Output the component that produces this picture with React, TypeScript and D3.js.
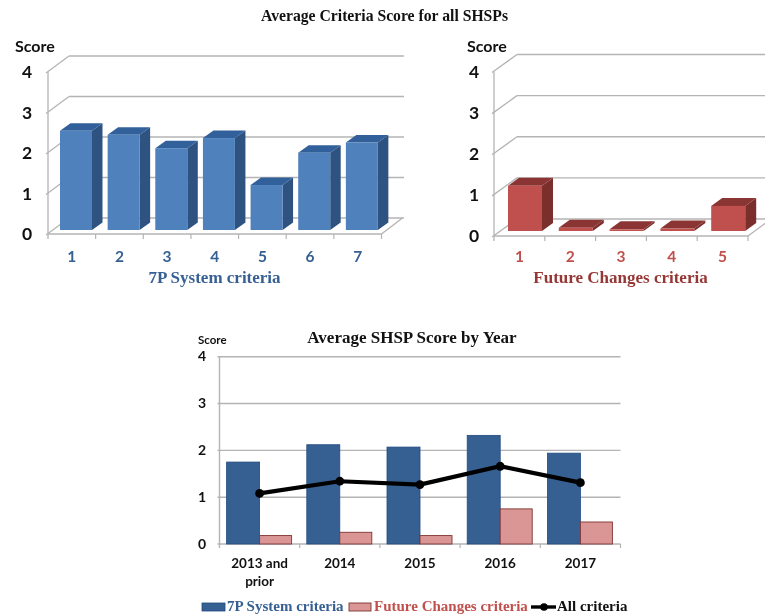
import React from "react";
import * as d3 from "d3";

const systemCriteria = ["1", "2", "3", "4", "5", "6", "7"];
const systemScores = [2.45, 2.35, 2.02, 2.27, 1.11, 1.91, 2.16];
const futureCriteria = ["1", "2", "3", "4", "5"];
const futureScores = [1.1, 0.08, 0.04, 0.06, 0.61];
const scoreTicks = [0, 1, 2, 3, 4];
const years = ["2013 and prior", "2014", "2015", "2016", "2017"];
const yearSystem = [1.75, 2.12, 2.07, 2.32, 1.94];
const yearFuture = [0.18, 0.25, 0.18, 0.75, 0.47];
const yearAll = [1.08, 1.34, 1.27, 1.66, 1.31];

const SANS = "Lato, 'Open Sans', sans-serif";
const SERIF = "'Liberation Serif', serif";
const GRID = "#b4b4b4";

type Chart3DProps = {
  cats: string[]; vals: number[]; x0: number; x1: number; yZero: number; yTop: number;
  dx: number; dy: number; barOff: number; barW: number; face: string; side: string; top: string;
  tickColor: string; name: string; nameColor: string; nameX: number; scoreX: number; numX: number;
  lineEnd: number; baseGap: number; depthX: number; depthY: number;
};

function Chart3D(p: Chart3DProps) {
  const y = d3.scaleLinear().domain([0, 4]).range([p.yZero, p.yTop]);
  const x = d3.scaleBand<string>().domain(p.cats).range([p.x0, p.x1]);
  const base = p.yZero - p.baseGap;
  const h = p.yZero - p.yTop;
  return (
    <g>
      {scoreTicks.map((t) => (
        <g key={t}>
          <line x1={p.x0 - 2} x2={p.x0 + p.dx} y1={y(t) + 1} y2={y(t) - p.dy} stroke={GRID} strokeWidth={1.3} />
          <line x1={p.x0 + p.dx} x2={p.lineEnd} y1={y(t) - p.dy} y2={y(t) - p.dy} stroke={GRID} strokeWidth={1.3} />
          <text x={p.numX} y={y(t) + 2} textAnchor="middle" dominantBaseline="middle" fontFamily={SANS} fontWeight={700} fontSize={17.5} fill="#111">{t}</text>
        </g>
      ))}
      <line x1={p.x0} x2={p.x0} y1={p.yTop} y2={p.yZero + 5} stroke={GRID} strokeWidth={1.3} />
      <line x1={p.x0} x2={p.x1} y1={p.yZero} y2={p.yZero} stroke={GRID} strokeWidth={1.6} />
      <line x1={p.x1} x2={p.x1 + p.dx} y1={p.yZero} y2={p.yZero - p.dy} stroke={GRID} strokeWidth={1.3} />
      {p.cats.map((c) => (
        <line key={c} x1={x(c)! + x.bandwidth()} x2={x(c)! + x.bandwidth()} y1={p.yZero} y2={p.yZero + 5} stroke={GRID} strokeWidth={1.2} />
      ))}
      {p.cats.map((c, i) => {
        const l = x(c)! + p.barOff;
        const r = l + p.barW;
        const t = base - (h / 4) * p.vals[i];
        const dX = p.depthX, dY = p.depthY;
        return (
          <g key={c}>
            <polygon points={`${r},${t} ${r + dX},${t - dY} ${r + dX},${base - dY} ${r},${base}`} fill={p.side} />
            <polygon points={`${l},${t} ${l + dX},${t - dY} ${r + dX},${t - dY} ${r},${t}`} fill={p.top} />
            <rect x={l} y={t} width={p.barW} height={base - t} fill={p.face} />
            <text x={x(c)! + x.bandwidth() / 2} y={258} textAnchor="middle" dominantBaseline="middle" fontFamily={SANS} fontWeight={700} fontSize={15.5} fill={p.tickColor}>{c}</text>
          </g>
        );
      })}
      <text x={p.scoreX} y={47.5} dominantBaseline="middle" fontFamily={SANS} fontWeight={700} fontSize={16} fill="#111">Score</text>
      <text x={p.nameX} y={279} textAnchor="middle" dominantBaseline="middle" fontFamily={SERIF} fontWeight={700} fontSize={17} fill={p.nameColor}>{p.name}</text>
    </g>
  );
}

function YearChart() {
  const x0 = 219.5, x1 = 620.5, yZero = 544, yTop = 356.7;
  const y = d3.scaleLinear().domain([0, 4]).range([yZero, yTop]);
  const x = d3.scaleBand<string>().domain(years).range([x0, x1]);
  const bw = 33;
  const center = (c: string) => x(c)! + x.bandwidth() / 2;
  const line = d3.line<string>().x(center).y((_, i) => y(yearAll[i]));
  return (
    <g>
      <text x={412} y={339.5} textAnchor="middle" dominantBaseline="middle" fontFamily={SERIF} fontWeight={700} fontSize={17} fill="#111">Average SHSP Score by Year</text>
      <text x={198} y={341.5} dominantBaseline="middle" fontFamily={SANS} fontWeight={700} fontSize={11.5} fill="#111">Score</text>
      {scoreTicks.map((t) => (
        <g key={t}>
          <line x1={x0 - 2} x2={x1} y1={y(t)} y2={y(t)} stroke={GRID} strokeWidth={1.4} />
          <text x={202} y={y(t) + 1} textAnchor="middle" dominantBaseline="middle" fontFamily={SANS} fontWeight={700} fontSize={14} fill="#111">{t}</text>
        </g>
      ))}
      <line x1={x0} x2={x0} y1={yTop} y2={yZero + 4} stroke={GRID} strokeWidth={1.4} />
      {years.map((c, i) => {
        const m = center(c);
        const parts = c === "2013 and prior" ? ["2013 and", "prior"] : [c];
        return (
          <g key={c}>
            <line x1={x(c)! + x.bandwidth()} x2={x(c)! + x.bandwidth()} y1={yZero} y2={yZero + 4} stroke={GRID} strokeWidth={1.2} />
            <rect x={m - bw} y={y(yearSystem[i])} width={bw} height={yZero - y(yearSystem[i])} fill="#376092" stroke="#1f4a80" strokeWidth={0.8} />
            <rect x={m} y={y(yearFuture[i])} width={bw - 1} height={yZero - y(yearFuture[i])} fill="#d99694" stroke="#7f3431" strokeWidth={0.9} />
            {parts.map((t, j) => (
              <text key={t} x={m} y={564.5 + j * 18} textAnchor="middle" dominantBaseline="middle" fontFamily={SANS} fontWeight={700} fontSize={13.5} fill="#111">{t}</text>
            ))}
          </g>
        );
      })}
      <path d={line(years) ?? ""} fill="none" stroke="#000" strokeWidth={4.2} />
      {years.map((c, i) => (
        <circle key={c} cx={center(c)} cy={y(yearAll[i])} r={4.4} fill="#000" />
      ))}
      <rect x={202} y={603} width={23} height={8} fill="#376092" stroke="#1f4a80" strokeWidth={0.8} />
      <text x={227} y={608} dominantBaseline="middle" fontFamily={SERIF} fontWeight={700} fontSize={15} fill="#366092">7P System criteria</text>
      <rect x={349} y={603} width={22} height={8} fill="#d99694" stroke="#7f3431" strokeWidth={0.9} />
      <text x={374} y={608} dominantBaseline="middle" fontFamily={SERIF} fontWeight={700} fontSize={15} fill="#c0504d">Future Changes criteria</text>
      <line x1={531} x2={556} y1={607} y2={607} stroke="#000" strokeWidth={3.4} />
      <circle cx={544} cy={607} r={3.8} fill="#000" />
      <text x={557} y={608} dominantBaseline="middle" fontFamily={SERIF} fontWeight={700} fontSize={15} fill="#111">All criteria</text>
    </g>
  );
}

export default function App() {
  return (
    <svg width={765} height={615} style={{ position: "absolute", left: 0, top: 0, background: "#fff", filter: "blur(0.35px)" }}>
      <text x={384.5} y={17} textAnchor="middle" dominantBaseline="middle" fontFamily={SERIF} fontWeight={700} fontSize={15.7} fill="#111">Average Criteria Score for all SHSPs</text>
      <Chart3D cats={systemCriteria} vals={systemScores} x0={48} x1={381.5} yZero={234} yTop={72} dx={21} dy={16}
        barOff={12} barW={32} baseGap={4} depthX={10.5} depthY={7.5}
        face="#4f81bd" side="#2f5380" top="#32609a" tickColor="#366092"
        name="7P System criteria" nameColor="#366092" nameX={214.5} scoreX={15} numX={27} lineEnd={404} />
      <Chart3D cats={futureCriteria} vals={futureScores} x0={494} x1={748} yZero={236} yTop={71.5} dx={23} dy={17}
        barOff={14} barW={34} baseGap={5} depthX={11} depthY={8}
        face="#c0504d" side="#7b2f2d" top="#8a3533" tickColor="#c0504d"
        name="Future Changes criteria" nameColor="#953735" nameX={620.5} scoreX={467} numX={474} lineEnd={765} />
      <YearChart />
    </svg>
  );
}
